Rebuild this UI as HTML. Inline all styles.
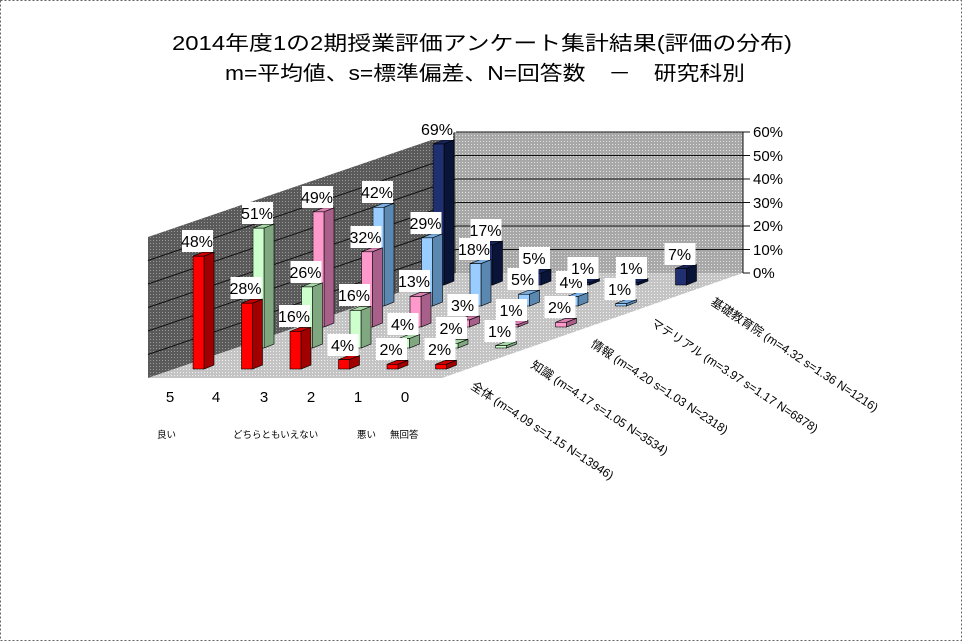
<!DOCTYPE html>
<html><head><meta charset="utf-8">
<style>
html,body{margin:0;padding:0;background:#fff;}
svg{display:block;}
text{font-family:"Liberation Sans","Noto Sans CJK JP",sans-serif;}
</style></head><body>
<svg id="s" width="963" height="642" viewBox="0 0 963 642" xmlns="http://www.w3.org/2000/svg">
<defs>
<pattern id="pl" width="3" height="3" patternUnits="userSpaceOnUse"><rect width="3" height="3" fill="#5a5a5a"/><rect width="1" height="1" fill="#9a9a9a"/></pattern>
<pattern id="pb" width="3" height="3" patternUnits="userSpaceOnUse"><rect width="3" height="3" fill="#a8a8a8"/><rect width="1" height="1" fill="#e0e0e0"/></pattern>
<pattern id="pf" width="3" height="3" patternUnits="userSpaceOnUse"><rect width="3" height="3" fill="#c4c4c4"/><rect width="1" height="1" fill="#f0f0f0"/></pattern>
</defs>
<rect x="0.5" y="0.5" width="961" height="640" fill="#fff" stroke="#666" stroke-dasharray="2,2"/>
<text x="482" y="50" font-size="20" text-anchor="middle" textLength="620" lengthAdjust="spacingAndGlyphs">2014年度1の2期授業評価アンケート集計結果(評価の分布)</text>
<text x="485" y="80" font-size="20" text-anchor="middle" textLength="520" lengthAdjust="spacingAndGlyphs">m=平均値、s=標準偏差、N=回答数　－　研究科別</text>
<polygon points="148,237 455,132 456,273 148,378" fill="url(#pl)"/>
<polygon points="455,132 743,132 743,273 456,273" fill="url(#pb)"/>
<polygon points="148,378 442,378 743,273 456,273" fill="url(#pf)"/>
<g stroke="#111" stroke-width="1">
<line x1="148" y1="354.5" x2="456" y2="249.5"/><line x1="148" y1="331" x2="456" y2="226"/><line x1="148" y1="307.5" x2="456" y2="202.5"/><line x1="148" y1="284" x2="456" y2="179"/><line x1="148" y1="260.5" x2="456" y2="155.5"/>
<line x1="456" y1="249.5" x2="750" y2="249.5"/><line x1="456" y1="226" x2="750" y2="226"/><line x1="456" y1="202.5" x2="750" y2="202.5"/><line x1="456" y1="179" x2="750" y2="179"/><line x1="456" y1="155.5" x2="750" y2="155.5"/><line x1="456" y1="132" x2="750" y2="132"/>
<line x1="743" y1="273" x2="750" y2="273"/><line x1="743" y1="132" x2="743" y2="273"/>
</g>
<g font-size="15">
<text x="753" y="278">0%</text><text x="753" y="255">10%</text><text x="753" y="231">20%</text><text x="753" y="208">30%</text><text x="753" y="184">40%</text><text x="753" y="161">50%</text><text x="753" y="137">60%</text>
</g>
<g id="bars"></g>
<g font-size="16" text-anchor="middle">
<rect x="182" y="230" width="31" height="22" fill="#fff"/><text x="197" y="247">48%</text>
<rect x="230.5" y="277" width="31" height="22" fill="#fff"/><text x="245.5" y="294">28%</text>
<rect x="279" y="305" width="31" height="22" fill="#fff"/><text x="294" y="322">16%</text>
<rect x="327.5" y="334" width="31" height="22" fill="#fff"/><text x="342.5" y="351">4%</text>
<rect x="376" y="338" width="31" height="22" fill="#fff"/><text x="391" y="355">2%</text>
<rect x="424.5" y="338" width="31" height="22" fill="#fff"/><text x="439.5" y="355">2%</text>
<rect x="242" y="202" width="31" height="22" fill="#fff"/><text x="257" y="219">51%</text>
<rect x="290.5" y="261" width="31" height="22" fill="#fff"/><text x="305.5" y="278">26%</text>
<rect x="339" y="284" width="31" height="22" fill="#fff"/><text x="354" y="301">16%</text>
<rect x="387.5" y="313" width="31" height="22" fill="#fff"/><text x="402.5" y="330">4%</text>
<rect x="436" y="317" width="31" height="22" fill="#fff"/><text x="451" y="334">2%</text>
<rect x="484.5" y="320" width="31" height="22" fill="#fff"/><text x="499.5" y="337">1%</text>
<rect x="302" y="186" width="31" height="22" fill="#fff"/><text x="317" y="203">49%</text>
<rect x="350.5" y="226" width="31" height="22" fill="#fff"/><text x="365.5" y="243">32%</text>
<rect x="399" y="270" width="31" height="22" fill="#fff"/><text x="414" y="287">13%</text>
<rect x="447.5" y="294" width="31" height="22" fill="#fff"/><text x="462.5" y="311">3%</text>
<rect x="496" y="299" width="31" height="22" fill="#fff"/><text x="511" y="316">1%</text>
<rect x="544.5" y="296" width="31" height="22" fill="#fff"/><text x="559.5" y="313">2%</text>
<rect x="362" y="181" width="31" height="22" fill="#fff"/><text x="377" y="198">42%</text>
<rect x="410.5" y="212" width="31" height="22" fill="#fff"/><text x="425.5" y="229">29%</text>
<rect x="459" y="238" width="31" height="22" fill="#fff"/><text x="474" y="255">18%</text>
<rect x="507.5" y="268" width="31" height="22" fill="#fff"/><text x="522.5" y="285">5%</text>
<rect x="556" y="271" width="31" height="22" fill="#fff"/><text x="571" y="288">4%</text>
<rect x="604.5" y="278" width="31" height="22" fill="#fff"/><text x="619.5" y="295">1%</text>
<rect x="422" y="118" width="31" height="22" fill="#fff"/><text x="437" y="135">69%</text>
<rect x="470.5" y="219" width="31" height="22" fill="#fff"/><text x="485.5" y="236">17%</text>
<rect x="519" y="247" width="31" height="22" fill="#fff"/><text x="534" y="264">5%</text>
<rect x="567.5" y="257" width="31" height="22" fill="#fff"/><text x="582.5" y="274">1%</text>
<rect x="616" y="257" width="31" height="22" fill="#fff"/><text x="631" y="274">1%</text>
<rect x="664.5" y="243" width="31" height="22" fill="#fff"/><text x="679.5" y="260">7%</text>
</g>
<g font-size="15" text-anchor="middle">
<text x="170" y="402">5</text><text x="216" y="402">4</text><text x="264" y="402">3</text><text x="311" y="402">2</text><text x="358" y="402">1</text><text x="405" y="402">0</text>
</g>
<g font-size="9.5">
<text x="157" y="438">良い</text><text x="233" y="438">どちらともいえない</text><text x="357" y="438">悪い</text><text x="390" y="438">無回答</text>
</g>
<g font-size="12">
<text transform="translate(470,388) rotate(33.3)">全体 (m=4.09 s=1.15 N=13946)</text>
<text transform="translate(530,367) rotate(33.3)">知識 (m=4.17 s=1.05 N=3534)</text>
<text transform="translate(590,346) rotate(33.3)">情報 (m=4.20 s=1.03 N=2318)</text>
<text transform="translate(650,325) rotate(33.3)">マテリアル (m=3.97 s=1.17 N=6878)</text>
<text transform="translate(710,304) rotate(33.3)">基礎教育院 (m=4.32 s=1.36 N=1216)</text>
</g>
</svg>
<script>
(function(){
var vals=[[48,28,16,4,2,2],[51,26,16,4,2,1],[49,32,13,3,1,2],[42,29,18,5,4,1],[69,17,5,1,1,7]];
var cols=[["#ff0000","#a00000","#cc0000"],["#ccffcc","#80a880","#a8d8a8"],["#ff99cc","#a8608a","#d880b0"],["#99ccff","#5a88b0","#7aaee0"],["#1f2f6f","#0a1438","#16245a"]];
var g=document.getElementById('bars'),h="";
for(var r=4;r>=0;r--){var base=369-21*r;for(var c=0;c<6;c++){
var x=193+48.5*c+60*r,v=Math.min(vals[r][c],60),top=base-v*2.35,w=11,dx=10,dy=4,k=cols[r];
h+='<polygon points="'+[x,top,x+w,top,x+w+dx,top-dy,x+dx,top-dy].join(',')+'" fill="'+k[2]+'" stroke="#000" stroke-width="0.6"/>';
h+='<polygon points="'+[x+w,top,x+w+dx,top-dy,x+w+dx,base-dy,x+w,base].join(',')+'" fill="'+k[1]+'" stroke="#000" stroke-width="0.6"/>';
h+='<rect x="'+x+'" y="'+top+'" width="'+w+'" height="'+(base-top)+'" fill="'+k[0]+'" stroke="#000" stroke-width="0.6"/>';
}}
g.innerHTML=h;
})();
</script>
</body></html>
